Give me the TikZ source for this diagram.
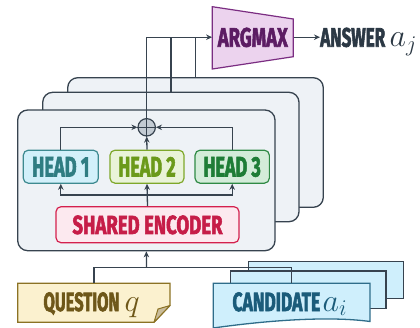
\RequirePackage{fix-cm}
\documentclass[tikz,border=0pt]{standalone}
\usepackage{graphicx}
\usepackage{fontspec}
\setmainfont{Fira Sans}[BoldFeatures={FakeBold=2.6}]
\usetikzlibrary{arrows.meta,calc}
\definecolor{wirec}{HTML}{37434F}
\definecolor{framefill}{HTML}{EEF2F6}
\definecolor{hAfill}{HTML}{D2F0FA}\definecolor{hAdraw}{HTML}{3D8A90}\definecolor{hAtext}{HTML}{2F7D82}
\definecolor{hBfill}{HTML}{E9F3D8}\definecolor{hBdraw}{HTML}{7EA82A}\definecolor{hBtext}{HTML}{6B9A1A}
\definecolor{hCfill}{HTML}{D3ECD9}\definecolor{hCdraw}{HTML}{2F8A45}\definecolor{hCtext}{HTML}{1E7D36}
\definecolor{encfill}{HTML}{FCE9EF}\definecolor{encdraw}{HTML}{D4204D}\definecolor{enctext}{HTML}{C61D48}
\definecolor{argfill}{HTML}{ECD3EE}\definecolor{argdraw}{HTML}{7B2D82}\definecolor{argtext}{HTML}{5C1C63}
\definecolor{qfill}{HTML}{FBF1CF}\definecolor{qdraw}{HTML}{8B7224}\definecolor{qtext}{HTML}{6E5719}\definecolor{qflap}{HTML}{C9BC9A}
\definecolor{cfill}{HTML}{CFEFFC}\definecolor{cdraw}{HTML}{2F6D8A}\definecolor{ctext}{HTML}{1B5C7A}
\definecolor{anstext}{HTML}{2B3844}
\definecolor{opfill}{HTML}{C3CBD3}
\newcommand\fitt[3]{\resizebox{#1}{#2}{#3}}
\newcommand\bigmath[1]{{\fontsize{32}{34}\selectfont$#1$}}
\tikzset{
  wire/.style={draw=wirec, line width=1.3pt},
  arr/.style={-{Stealth[length=6pt,width=5.5pt]}},
  frame/.style={draw=wirec, fill=framefill, line width=1.3pt, rounded corners=10pt, inner sep=0pt},
  lbl/.style={font=\bfseries\fontsize{28}{30}\selectfont, text depth=0pt, inner sep=0pt},
  headbox/.style={lbl, text height=19.5pt, line width=1.2pt, rounded corners=5pt, minimum height=33pt},
  candback/.style={draw=wirec, fill=cfill, line width=1.3pt},
  shapebox/.style={inner sep=0pt},
}
\begin{document}
\begin{tikzpicture}[x=1pt,y=-1pt]
\useasboundingbox (0,0) rectangle (420,327);
% stacked frames
\node[frame, minimum width=255.6pt, minimum height=129.6pt] (back) at (195.5,142.5) {};
\node[frame, minimum width=256.3pt, minimum height=129.4pt] (mid) at (170.85,157) {};
\node[frame, minimum width=257.3pt, minimum height=140.7pt] (front) at (146.35,180.35) {};
% heads
\node[headbox, draw=hAdraw, fill=hAfill, text=hAtext, minimum width=75pt] (h1) at (60.8,166.7) {\fitt{57.3pt}{19.5pt}{HEAD 1}};
\node[headbox, draw=hBdraw, fill=hBfill, text=hBtext, minimum width=74pt] (h2) at (147,166.7) {\fitt{57.3pt}{19.5pt}{HEAD 2}};
\node[headbox, draw=hCdraw, fill=hCfill, text=hCtext, minimum width=74.3pt] (h3) at (232.2,166.7) {\fitt{57.3pt}{19.5pt}{HEAD 3}};
% encoder
\node[lbl, text height=18.5pt, draw=encdraw, fill=encfill, text=enctext, line width=1.2pt, rounded corners=5pt, minimum width=183pt, minimum height=36pt] (enc) at (147.5,224.7) {\fitt{150pt}{18.5pt}{SHARED ENCODER}};
% oplus
\node[circle, draw=wirec, fill=opfill, line width=1.2pt, minimum size=17.4pt, inner sep=0pt] (op) at (146.7,127.3) {};
\draw[wirec, line width=1.1pt] (op.north) -- (op.south) (op.west) -- (op.east);
% argmax
\draw[draw=argdraw, fill=argfill, line width=1.2pt] (212.3,6.7) -- (293.3,19) -- (293.3,56.7) -- (212.3,69) -- cycle;
\node[lbl, text height=19pt, text=argtext, minimum width=81pt] (arg) at (252.8,37.2) {\fitt{70pt}{19pt}{ARGMAX}};
\node[lbl, text=anstext, anchor=base west] (ans) at (320,46.7) {\fitt{65pt}{19pt}{ANSWER}\hspace{4.5pt}\bigmath{a_j}};
% candidates
\draw[candback] (248.3,261.7) rectangle (403.3,298.3);
\draw[candback] (230.7,271) rectangle (386,308.3);
% question shape
\node[shapebox, minimum width=152.3pt, minimum height=39pt] (qbox) at (93.85,302.8) {};
\draw[draw=qdraw, fill=qfill, line width=1.2pt] (17.7,283.3) -- (170,283.3) -- (170,305.5) -- (154,322.3) -- (17.7,322.3) -- cycle;
\draw[draw=qdraw, fill=qflap, line width=1pt, line join=round] (170,305.5) -- (154,322.3) -- (158,309) -- cycle;
\node[lbl, text=qtext, anchor=base west] (q) at (43.3,311) {\fitt{76pt}{18.7pt}{QUESTION}\hspace{5pt}\bigmath{q}};
% front candidate
\node[shapebox, minimum width=156.7pt, minimum height=43.4pt] (cbox) at (291.65,305) {};
\draw[draw=cdraw, fill=cfill, line width=1.3pt] (213.3,283.3) -- (370,283.3) -- (370,321.5) .. controls (330,316) and (270,320) .. (213.3,328) -- cycle;
\node[lbl, text=ctext, anchor=base west] (cand) at (232.3,311) {\fitt{87.7pt}{18.7pt}{CANDIDATE}\hspace{2.5pt}\bigmath{a_i}};
% wires into encoder
\coordinate (join) at (146.5,267.3);
\coordinate (sp) at (147,195);
\coordinate (mtop) at (171,92.3);
\coordinate (btop) at (195.7,77.7);
\draw[wire] (qbox.north) |- (join);
\draw[wire] (cbox.north) |- (join);
\draw[wire, arr] (join) -- (front.south);
% encoder to heads
\draw[wire, arr] (enc.north) -- (h2.south);
\draw[wire, arr] (sp) -| (h1.south);
\draw[wire, arr] (sp) -| (h3.south);
% heads to oplus
\draw[wire, arr] (h1.north) |- (op.west);
\draw[wire, arr] (h3.north) |- (op.east);
\draw[wire, arr] (h2.north) -- (op.south);
% to argmax
\draw[wire, arr] (op.north) |- (arg.west);
\draw[wire] (mtop) -- (mtop |- arg.west);
\draw[wire] (btop) -- (btop |- arg.west);
\draw[wire, arr] (arg.east) -- (arg.east -| ans.west);
\end{tikzpicture}
\end{document}
